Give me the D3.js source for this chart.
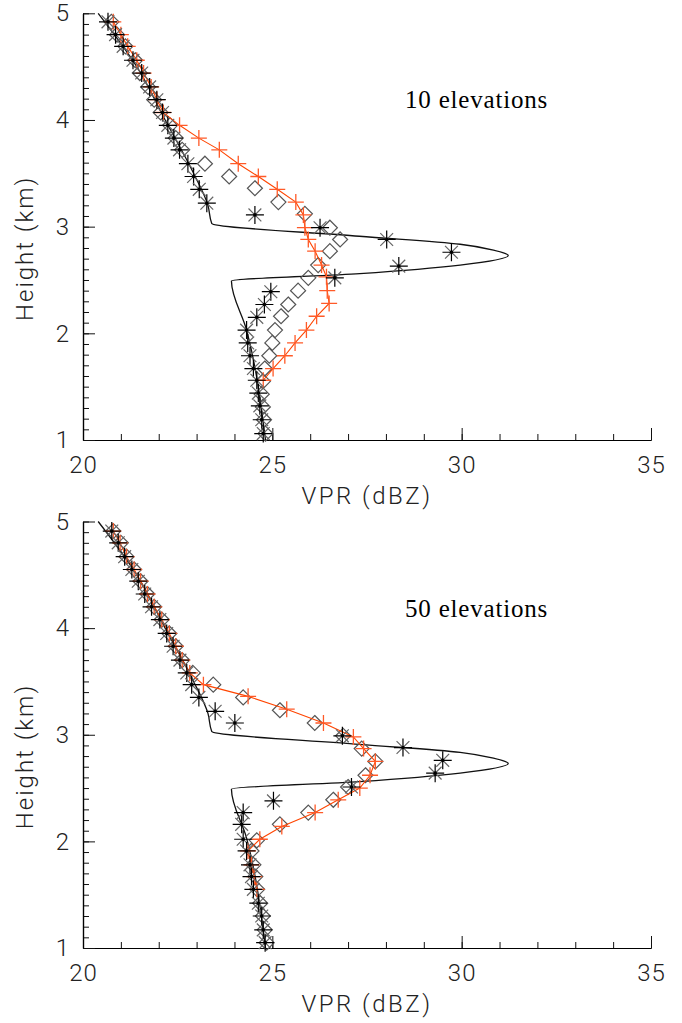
<!DOCTYPE html>
<html>
<head>
<meta charset="utf-8">
<script src="https://cdn.jsdelivr.net/npm/d3@7"></script>
<style>
  body { margin: 0; background: #fff; }
  svg text { font-family: Roboto, "Liberation Sans", sans-serif; font-weight: 300; }
</style>
</head>
<body>
<div id="chart"></div>
<script>
// true profile (same in both panels)
const truthH = [5.0, 4.5, 4.0, 3.5, 3.2, 3.03, 2.91, 2.835, 2.78, 2.73, 2.64, 2.56, 2.49, 2.03, 1.0];
const truthV = [20.4, 21.42, 22.17, 22.92, 23.3, 23.4, 27.3, 29.96, 30.84, 31.23, 29.96, 27.31, 23.92, 24.32, 24.82];

// top panel: 10 elevations
const topStarH = [4.92, 4.80, 4.69, 4.56, 4.44, 4.31, 4.19, 4.07, 3.95, 3.83, 3.72, 3.59, 3.47, 3.35, 3.22, 3.11, 2.99, 2.88, 2.76, 2.63, 2.52, 2.39, 2.27, 2.15, 2.03, 1.91, 1.79, 1.67, 1.56, 1.44, 1.32, 1.19, 1.06];
const topStarV = [20.66, 20.86, 21.06, 21.32, 21.55, 21.76, 21.95, 22.1, 22.24, 22.4, 22.55, 22.77, 22.92, 23.07, 23.27, 24.54, 26.26, 28.02, 29.73, 28.34, 26.65, 24.96, 24.79, 24.59, 24.32, 24.35, 24.41, 24.5, 24.59, 24.63, 24.67, 24.72, 24.76];
const topDiamH = [4.92, 4.80, 4.69, 4.56, 4.44, 4.31, 4.19, 4.07, 3.95, 3.83, 3.72, 3.59, 3.47, 3.36, 3.23, 3.12, 2.99, 2.88, 2.77, 2.64, 2.52, 2.40, 2.27, 2.16, 2.03, 1.91, 1.79, 1.67, 1.55, 1.43, 1.31, 1.19, 1.06];
const topDiamV = [20.75, 20.9, 21.12, 21.38, 21.5, 21.72, 21.88, 22.05, 22.3, 22.45, 22.62, 23.22, 23.86, 24.54, 25.16, 25.86, 26.52, 26.79, 26.52, 26.21, 25.95, 25.68, 25.42, 25.23, 25.07, 25.0, 24.92, 24.8, 24.75, 24.72, 24.75, 24.78, 24.82];
const topPlusH = [4.92, 4.80, 4.69, 4.56, 4.44, 4.31, 4.19, 4.07, 3.95, 3.83, 3.72, 3.59, 3.47, 3.35, 3.23, 3.11, 2.99, 2.88, 2.77, 2.64, 2.53, 2.40, 2.28, 2.16, 2.03, 1.91, 1.79, 1.67, 1.56];
const topPlusV = [20.8, 21.0, 21.18, 21.42, 21.6, 21.8, 21.95, 22.12, 22.55, 23.06, 23.6, 24.1, 24.63, 25.13, 25.62, 25.82, 25.86, 25.95, 26.13, 26.3, 26.43, 26.45, 26.5, 26.17, 25.9, 25.6, 25.33, 25.02, 24.76];

// bottom panel: 50 elevations
const botStarH = [4.91, 4.80, 4.67, 4.55, 4.44, 4.32, 4.20, 4.08, 3.95, 3.83, 3.70, 3.58, 3.47, 3.35, 3.22, 3.11, 2.99, 2.88, 2.76, 2.64, 2.51, 2.38, 2.27, 2.16, 2.02, 1.91, 1.78, 1.67, 1.55, 1.42, 1.30, 1.17, 1.05];
const botStarV = [20.76, 20.93, 21.1, 21.29, 21.46, 21.63, 21.81, 22.03, 22.21, 22.38, 22.56, 22.74, 22.87, 23.06, 23.49, 24.01, 26.85, 28.45, 29.5, 29.3, 27.09, 25.03, 24.23, 24.19, 24.23, 24.32, 24.41, 24.45, 24.5, 24.63, 24.72, 24.76, 24.81];
const botDiamH = [4.91, 4.80, 4.67, 4.55, 4.44, 4.32, 4.20, 4.08, 3.95, 3.83, 3.70, 3.58, 3.47, 3.35, 3.23, 3.11, 2.99, 2.87, 2.75, 2.62, 2.51, 2.39, 2.27, 2.16, 2.01, 1.91, 1.78, 1.67, 1.55, 1.42, 1.30, 1.17, 1.05];
const botDiamV = [20.8, 21.0, 21.15, 21.35, 21.52, 21.7, 21.88, 22.08, 22.28, 22.45, 22.62, 22.9, 23.44, 24.23, 25.2, 26.12, 26.87, 27.36, 27.72, 27.46, 27.0, 26.61, 25.95, 25.2, 24.59, 24.45, 24.5, 24.55, 24.6, 24.68, 24.75, 24.8, 24.85];
const botPlusH = [4.91, 4.80, 4.67, 4.55, 4.44, 4.32, 4.20, 4.08, 3.95, 3.83, 3.70, 3.58, 3.47, 3.36, 3.24, 3.11, 2.98, 2.87, 2.75, 2.62, 2.50, 2.39, 2.27, 2.14, 2.02, 1.91, 1.78, 1.67, 1.55];
const botPlusV = [20.8, 20.98, 21.15, 21.35, 21.52, 21.7, 21.88, 22.08, 22.28, 22.45, 22.62, 22.82, 23.18, 24.36, 25.38, 26.35, 27.14, 27.41, 27.72, 27.58, 27.31, 26.74, 26.13, 25.25, 24.67, 24.36, 24.45, 24.52, 24.59];

const xMajorTicks = [20, 25, 30, 35];
const yMajorTicks = [1, 2, 3, 4, 5];
const panelTitles = ["10 elevations", "50 elevations"];

const width = 682, height = 1023;
const svg = d3.select("#chart").append("svg")
    .attr("width", width)
    .attr("height", height);

const x = d3.scaleLinear().domain([20, 35]).range([83, 651]);

const panels = [
    { top: 13.3, bottom: 440, title: panelTitles[0],
      star: [topStarH, topStarV], diam: [topDiamH, topDiamV], plus: [topPlusH, topPlusV] },
    { top: 521.5, bottom: 948, title: panelTitles[1],
      star: [botStarH, botStarV], diam: [botDiamH, botDiamV], plus: [botPlusH, botPlusV] }
];

function zip(hv) {
    return hv[0].map((h, i) => ({ h: h, v: hv[1][i] }));
}

panels.forEach(p => {
    const y = d3.scaleLinear().domain([1, 5]).range([p.bottom, p.top]);
    const g = svg.append("g");

    // minor ticks
    g.append("g")
        .attr("transform", `translate(0,${p.bottom})`)
        .call(d3.axisBottom(x).tickValues(d3.range(20, 36, 1)).tickSize(-6).tickSizeOuter(0).tickFormat(""));
    g.append("g")
        .attr("transform", `translate(${x(20)},0)`)
        .call(d3.axisLeft(y).tickValues(d3.range(10, 51, 1).map(d => d / 10)).tickSize(-6).tickSizeOuter(0).tickFormat(""));

    // major ticks + labels
    const xAx = g.append("g")
        .attr("transform", `translate(0,${p.bottom})`)
        .call(d3.axisBottom(x).tickValues(xMajorTicks).tickSize(-12).tickSizeOuter(0).tickPadding(16));
    const yAx = g.append("g")
        .attr("transform", `translate(${x(20)},0)`)
        .call(d3.axisLeft(y).tickValues(yMajorTicks).tickSize(-12).tickSizeOuter(0).tickPadding(13).tickFormat(d3.format("d")));

    g.selectAll(".domain").attr("stroke", "#000").attr("stroke-width", 1.2);
    g.selectAll(".tick line").attr("stroke", "#111");
    g.selectAll(".tick text").attr("font-size", 24).attr("fill", "#222").attr("letter-spacing", 1);
    xAx.selectAll("text").attr("dy", "0.71em");

    g.append("text")
        .attr("x", (x(20) + x(35)) / 2)
        .attr("y", p.bottom + 64)
        .attr("text-anchor", "middle")
        .attr("font-size", 24)
        .attr("letter-spacing", 2.5)
        .attr("fill", "#222")
        .text("VPR (dBZ)");

    g.append("text")
        .attr("transform", `translate(33,${p.top + 235}) rotate(-90)`)
        .attr("text-anchor", "middle")
        .attr("font-size", 24)
        .attr("letter-spacing", 2)
        .attr("fill", "#222")
        .text("Height (km)");

    g.append("text")
        .attr("x", 405)
        .attr("y", p.top + 95)
        .style("font-family", "'Liberation Serif', 'Times New Roman', serif")
        .style("font-weight", "normal")
        .attr("font-size", 25)
        .attr("letter-spacing", 0.8)
        .attr("fill", "#000")
        .text(p.title);

    // true profile
    const line = d3.line().x(d => x(d.v)).y(d => y(d.h));
    g.append("path")
        .datum(zip([truthH, truthV]))
        .attr("d", line.curve(d3.curveMonotoneY))
        .attr("fill", "none")
        .attr("stroke", "#111")
        .attr("stroke-width", 1.3);

    // diamonds
    g.append("g").selectAll("path")
        .data(zip(p.diam))
        .enter().append("path")
        .attr("transform", d => `translate(${x(d.v)},${y(d.h)})`)
        .attr("d", "M0,-7.5L7.5,0L0,7.5L-7.5,0Z")
        .attr("fill", "none")
        .attr("stroke", "#555")
        .attr("stroke-width", 1.2);

    // orange plus with line
    const plusData = zip(p.plus);
    g.append("path")
        .datum(plusData)
        .attr("d", d3.line().x(d => x(d.v)).y(d => y(d.h)))
        .attr("fill", "none")
        .attr("stroke", "#ff4500")
        .attr("stroke-width", 1.1);
    g.append("g").selectAll("path")
        .data(plusData)
        .enter().append("path")
        .attr("transform", d => `translate(${x(d.v)},${y(d.h)})`)
        .attr("d", "M-8,0H8M0,-8V8")
        .attr("stroke", "#ff5a28")
        .attr("stroke-width", 1.3);

    // asterisks
    const star = g.append("g").selectAll("g")
        .data(zip(p.star))
        .enter().append("g")
        .attr("transform", d => `translate(${x(d.v)},${y(d.h)})`);
    star.append("path")
        .attr("d", "M-6.4,-6.4L6.4,6.4M-6.4,6.4L6.4,-6.4")
        .attr("stroke", "#666")
        .attr("stroke-width", 1.2);
    star.append("path")
        .attr("d", "M-9,0H9M0,-9V9")
        .attr("stroke", "#000")
        .attr("stroke-width", 1.2);
    star.append("circle")
        .attr("r", 1.8)
        .attr("fill", "#000");
});
</script>
</body>
</html>
